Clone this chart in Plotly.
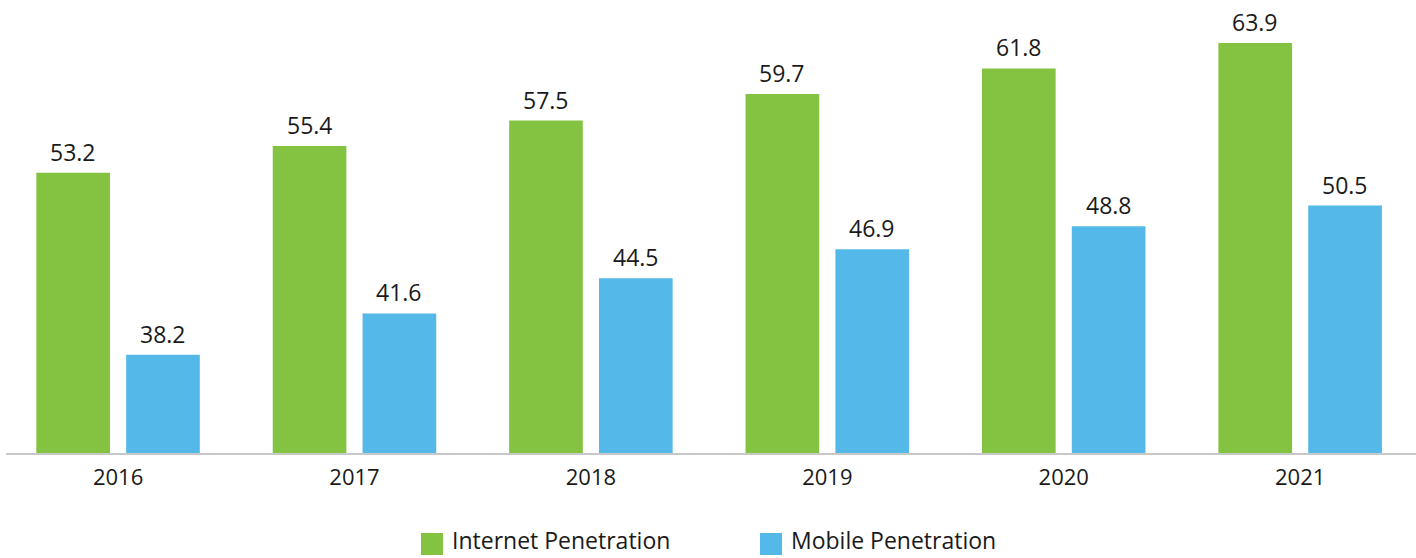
import plotly.graph_objects as go

years = ["2016", "2017", "2018", "2019", "2020", "2021"]
internet = [53.2, 55.4, 57.5, 59.7, 61.8, 63.9]
mobile = [38.2, 41.6, 44.5, 46.9, 48.8, 50.5]
series_names = ["Internet Penetration", "Mobile Penetration"]
colors = ["#83C341", "#54B9E8"]

FONT = "Open Sans"
TXT = "#1a1a1a"
BARGAP = 0.24
GROUPGAP = 0.18

fig = go.Figure()
for name, vals, col in zip(series_names, [internet, mobile], colors):
    fig.add_trace(go.Bar(x=list(range(len(years))), y=vals, name=name,
                         marker=dict(color=col, line=dict(width=0)),
                         showlegend=False, hoverinfo="skip"))

slot = (1 - BARGAP) / 2
for k, vals in enumerate([internet, mobile]):
    off = -slot / 2 if k == 0 else slot / 2
    for i, v in enumerate(vals):
        fig.add_annotation(x=i + off, y=v, text=f"{v:.1f}", showarrow=False,
                           xref="x", yref="y", yanchor="middle", yshift=21,
                           font=dict(family=FONT, size=23, color=TXT))

# legend drawn as swatches + labels (paper coords)
W0, PW, PH = 6, 1410, 453
def px(xp):
    return (xp - W0) / PW
def py(yp):
    return (PH - yp) / PH

legend_items = [(421, 451), (760, 790)]
for (sx, tx), name, col in zip(legend_items, series_names, colors):
    fig.add_shape(type="rect", xref="paper", yref="paper",
                  x0=px(sx), x1=px(sx + 22), y0=py(555), y1=py(533),
                  fillcolor=col, line=dict(width=0))
    fig.add_annotation(x=px(tx), y=py(557), xref="paper", yref="paper",
                       text=name, showarrow=False, xanchor="left", yanchor="bottom",
                       borderpad=0,
                       font=dict(family=FONT, size=23, color=TXT))

fig.update_layout(
    width=1416, height=558,
    margin=dict(l=6, r=0, t=0, b=105),
    paper_bgcolor="white", plot_bgcolor="white",
    barmode="group", bargap=BARGAP, bargroupgap=GROUPGAP,
    font=dict(family=FONT, size=22, color=TXT),
    showlegend=False,
    xaxis=dict(tickmode="array", tickvals=list(range(len(years))), ticktext=years,
               range=[-0.474, 5.49], showgrid=False, zeroline=False,
               showline=True, linecolor="#c8c8c8", linewidth=2, ticks="",
               ticklabelstandoff=4,
               tickfont=dict(family=FONT, size=22, color=TXT), fixedrange=True),
    yaxis=dict(range=[30.1, 67.44], visible=False, showgrid=False, zeroline=False,
               fixedrange=True),
)

fig.write_html("out.html", config={"displayModeBar": False},
               post_script="document.body.style.margin='0';document.body.style.overflow='hidden';")
